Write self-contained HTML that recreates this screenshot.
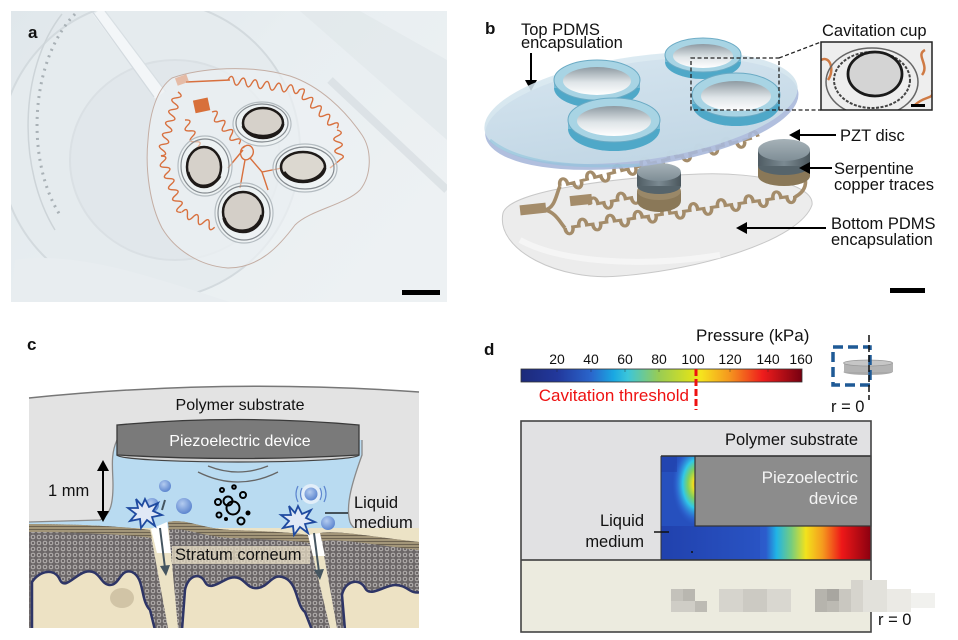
<!DOCTYPE html>
<html><head><meta charset="utf-8">
<style>
html,body{margin:0;padding:0;background:#fff;}
svg{display:block;}
text{font-family:"Liberation Sans",Arial,sans-serif;}
</style></head><body>
<svg width="958" height="640" viewBox="0 0 958 640" xmlns="http://www.w3.org/2000/svg">
<defs>
<linearGradient id="bgA" x1="0" y1="0" x2="1" y2="0.6">
<stop offset="0" stop-color="#e0e7eb"/><stop offset="0.5" stop-color="#e8eef1"/><stop offset="1" stop-color="#edf1f3"/>
</linearGradient>
<linearGradient id="topDisc" x1="0" y1="0" x2="0" y2="1">
<stop offset="0" stop-color="#d8e8f0"/><stop offset="1" stop-color="#c4dae6"/>
</linearGradient>
<linearGradient id="cupIn" x1="0" y1="0" x2="0" y2="1">
<stop offset="0" stop-color="#8e9aa2"/><stop offset="0.55" stop-color="#dfe5e8"/><stop offset="1" stop-color="#ffffff"/>
</linearGradient>
<linearGradient id="pztTop" x1="0" y1="0" x2="0" y2="1">
<stop offset="0" stop-color="#a6b2b8"/><stop offset="1" stop-color="#7f8e96"/>
</linearGradient>
<linearGradient id="pztSide" x1="0" y1="0" x2="1" y2="0">
<stop offset="0" stop-color="#4f5c63"/><stop offset="0.5" stop-color="#7b8a92"/><stop offset="1" stop-color="#4a565c"/>
</linearGradient>
<linearGradient id="cbar" x1="0" y1="0" x2="1" y2="0">
<stop offset="0" stop-color="#1c2a7a"/><stop offset="0.13" stop-color="#22389c"/><stop offset="0.25" stop-color="#2a66cc"/>
<stop offset="0.33" stop-color="#1aa8e2"/><stop offset="0.38" stop-color="#3cc6da"/><stop offset="0.49" stop-color="#98cc54"/>
<stop offset="0.6" stop-color="#d8e020"/><stop offset="0.64" stop-color="#f6e41e"/><stop offset="0.74" stop-color="#f5981e"/>
<stop offset="0.86" stop-color="#ef1c1c"/><stop offset="1" stop-color="#760010"/>
</linearGradient>
<linearGradient id="band" x1="661" y1="0" x2="871" y2="0" gradientUnits="userSpaceOnUse">
<stop offset="0" stop-color="#1f3ea8"/><stop offset="0.5" stop-color="#2c5ccc"/><stop offset="0.55" stop-color="#20b4e6"/>
<stop offset="0.62" stop-color="#74cc80"/><stop offset="0.69" stop-color="#f2e21c"/><stop offset="0.77" stop-color="#f59a1e"/>
<stop offset="0.86" stop-color="#ee1818"/><stop offset="1" stop-color="#8a0010"/>
</linearGradient>
<radialGradient id="corner" cx="0.5" cy="0.5" r="0.5">
<stop offset="0" stop-color="#e86020"/><stop offset="0.15" stop-color="#f0e020"/><stop offset="0.35" stop-color="#80d060"/>
<stop offset="0.55" stop-color="#30c8e8"/><stop offset="0.8" stop-color="#3070d8" stop-opacity="0.6"/><stop offset="1" stop-color="#2448b8" stop-opacity="0"/>
</radialGradient>
<radialGradient id="bub" cx="0.4" cy="0.35" r="0.65">
<stop offset="0" stop-color="#b4ccf0"/><stop offset="1" stop-color="#5d86cf"/>
</radialGradient>
<pattern id="mesh" width="6" height="6" patternUnits="userSpaceOnUse">
<rect width="6" height="6" fill="#6c6768"/><circle cx="3" cy="3" r="1.8" fill="none" stroke="#bebab8" stroke-width="0.9"/>
</pattern>
<pattern id="sc" width="8" height="3" patternUnits="userSpaceOnUse">
<rect width="8" height="3" fill="#a39679"/><path d="M0 1.5 H8" stroke="#5f5646" stroke-width="0.8"/>
</pattern>
<clipPath id="clipA"><rect x="11" y="11" width="436" height="291"/></clipPath>
<clipPath id="clipHM"><rect x="661" y="456" width="210" height="104"/></clipPath>
<clipPath id="clipInset"><rect x="821" y="42" width="111" height="68"/></clipPath>
<clipPath id="clipC"><path d="M29,398 Q224,378 419,392 L419,628 L29,628 Z"/></clipPath>
</defs>

<!-- ================= PANEL A ================= -->
<g clip-path="url(#clipA)">
<rect x="11" y="11" width="436" height="291" fill="url(#bgA)"/>
<ellipse cx="150" cy="150" rx="150" ry="150" fill="#e5ebee" stroke="#d3dade" stroke-width="2"/>
<ellipse cx="175" cy="160" rx="105" ry="100" fill="#e1e7eb" stroke="#dae0e4" stroke-width="2"/>
<path d="M75,14 C30,60 25,160 60,215" fill="none" stroke="#a9b1b6" stroke-width="3" stroke-dasharray="2 5"/>
<path d="M62,14 C18,70 18,170 55,230" fill="none" stroke="#cdd4d8" stroke-width="1.5"/>
<path d="M300,11 L447,140 L447,60 L360,11 Z" fill="#e0e6ea" opacity="0.6"/>
<path d="M330,80 L447,190" stroke="#cfd6db" stroke-width="8" opacity="0.5"/>
<path d="M15,260 C80,250 160,280 230,302 L11,302 Z" fill="#e8edf0"/>
<path d="M98,11 L160,95" stroke="#f3f6f8" stroke-width="12"/>
<path d="M92,11 L154,97" stroke="#d3dadf" stroke-width="1.2"/>
<path d="M105,11 L166,92" stroke="#d8dfe3" stroke-width="1.2"/>
<!-- patch -->
<path d="M172,78 C200,68 250,64 290,76 C320,86 345,110 362,135 C372,150 372,175 360,190 C345,205 310,210 295,225 C280,245 260,268 228,268 C200,266 175,250 162,228 C150,205 145,170 148,140 C150,110 158,88 172,78 Z" fill="#edf1f3" fill-opacity="0.7" stroke="#c4aea4" stroke-width="1"/>
<!-- traces -->
<g fill="none" stroke="#d8703e" stroke-width="1.4">
<path transform="translate(228,80) rotate(8)" d="M0 0 q3 -8 6 0 t6 0 t6 0 t6 0 t6 0 t6 0 t6 0 t6 0 t6 0 t6 0 t6 0 t6 0"/>
<path transform="translate(299,90) rotate(45)" d="M0 0 q3 -8 6 0 t6 0 t6 0 t6 0 t6 0 t6 0 t6 0 t6 0 t6 0"/>
<path transform="translate(337,130) rotate(85)" d="M0 0 q3 -8 6 0 t6 0 t6 0 t6 0 t6 0"/>
<path d="M340,160 L330,168"/>
<path transform="translate(178,92) rotate(105)" d="M0 0 q3 -8 6 0 t6 0 t6 0 t6 0 t6 0 t6 0 t6 0 t6 0 t6 0 t6 0 t6 0"/>
<path transform="translate(161,156) rotate(70)" d="M0 0 q3 -8 6 0 t6 0 t6 0 t6 0 t6 0 t6 0 t6 0 t6 0 t6 0 t6 0"/>
<path transform="translate(182,212) rotate(25)" d="M0 0 q3 -8 6 0 t6 0 t6 0 t6 0 t6 0 t6 0"/>
<path transform="translate(212,112) rotate(50)" d="M0 0 q3 -8 6 0 t6 0 t6 0 t6 0 t6 0 t6 0 t6 0"/>
<path transform="translate(185,120) rotate(65)" d="M0 0 q3 -8 6 0 t6 0 t6 0 t6 0 t6 0"/>
<path d="M243,148 C250,140 258,152 250,158 C242,165 236,150 245,146 M250,158 L262,172 L282,168 M245,160 L240,188 M228,168 L243,150 M262,172 L268,190"/>
<path d="M186,82 L230,80"/>
</g>
<rect x="194" y="99" width="15" height="13" fill="#d8703a" transform="rotate(-12 201 105)"/>
<rect x="176" y="76" width="12" height="8" fill="#e39a74" opacity="0.6" transform="rotate(-20 182 80)"/>
<!-- discs -->
<g>
<ellipse cx="262" cy="124" rx="29" ry="22" fill="#f2f5f6" fill-opacity="0.5" stroke="#b4bcc1" stroke-width="1.2"/>
<ellipse cx="262" cy="123" rx="26" ry="19" fill="none" stroke="#858b90" stroke-width="1.2"/>
<ellipse cx="263" cy="123" rx="20" ry="15" fill="#d6d1ca" stroke="#1e1a18" stroke-width="2.5"/>
<path d="M243,126 C248,140 280,140 283,124" fill="none" stroke="#1e1a18" stroke-width="3"/>
<ellipse cx="205" cy="166" rx="27" ry="30" fill="#f2f5f6" fill-opacity="0.5" stroke="#b4bcc1" stroke-width="1.2"/>
<ellipse cx="205" cy="166" rx="24" ry="27" fill="none" stroke="#858b90" stroke-width="1.2"/>
<ellipse cx="204" cy="167" rx="17" ry="20" fill="#d6d1ca" stroke="#1e1a18" stroke-width="2.5"/>
<path d="M188,172 C192,190 212,190 220,176" fill="none" stroke="#1e1a18" stroke-width="3"/>
<ellipse cx="305" cy="168" rx="32" ry="24" fill="#f2f5f6" fill-opacity="0.5" stroke="#b4bcc1" stroke-width="1.2"/>
<ellipse cx="305" cy="168" rx="29" ry="21" fill="none" stroke="#858b90" stroke-width="1.2"/>
<ellipse cx="303" cy="167" rx="22" ry="15" fill="#dcd8d0" stroke="#1e1a18" stroke-width="2.5"/>
<path d="M284,172 C292,185 318,185 325,168" fill="none" stroke="#1e1a18" stroke-width="3.2"/>
<ellipse cx="244" cy="213" rx="29" ry="30" fill="#f2f5f6" fill-opacity="0.5" stroke="#b4bcc1" stroke-width="1.2"/>
<ellipse cx="244" cy="213" rx="26" ry="27" fill="none" stroke="#858b90" stroke-width="1.2"/>
<ellipse cx="243" cy="212" rx="20" ry="20" fill="#d4cfc8" stroke="#1e1a18" stroke-width="2.5"/>
<path d="M224,218 C228,236 258,236 262,215" fill="none" stroke="#1e1a18" stroke-width="3.5"/>
</g>
<rect x="402" y="290" width="38" height="5" fill="#000"/>
</g>
<text x="28" y="38" font-size="17" font-weight="bold" fill="#111">a</text>

<!-- ================= PANEL B ================= -->
<text x="485" y="34" font-size="17" font-weight="bold" fill="#111">b</text>
<text x="521" y="35" font-size="16.5" fill="#111">Top PDMS</text>
<text x="521" y="48" font-size="16.5" fill="#111">encapsulation</text>
<line x1="531" y1="53" x2="531" y2="82" stroke="#000" stroke-width="2"/>
<polygon points="525,80 537,80 531,91" fill="#000"/>

<!-- bottom PDMS -->
<path d="M503,213 C495,250 560,282 620,276 C700,270 800,240 812,205 C815,185 760,172 700,174 C620,177 510,190 503,213 Z" fill="#ececec" stroke="#c8c8c8" stroke-width="1"/>
<path d="M520,240 C560,262 640,268 720,255" fill="none" stroke="#f8f8f8" stroke-width="6" opacity="0.8"/>
<!-- traces b -->
<g fill="none" stroke="#a48c6a" stroke-width="3.6">
<path transform="translate(560,186) rotate(-14) scale(1,0.85)" d="M0 0 c0 -10 8 -10 8 0 l6 0 c0 10 8 10 8 0 l6 0 c0 -10 8 -10 8 0 l6 0 c0 10 8 10 8 0 l6 0 c0 -10 8 -10 8 0 l6 0 c0 10 8 10 8 0 l6 0 c0 -10 8 -10 8 0 l6 0 c0 10 8 10 8 0 l6 0 c0 -10 8 -10 8 0 l6 0 c0 10 8 10 8 0 l6 0 c0 -10 8 -10 8 0 l6 0 c0 10 8 10 8 0 l6 0 c0 -10 8 -10 8 0 l6 0 c0 10 8 10 8 0 l6 0 c0 -10 8 -10 8 0"/>
<path transform="translate(565,228) rotate(-8) scale(1,0.85)" d="M0 0 c0 10 8 10 8 0 l6 0 c0 -10 8 -10 8 0 l6 0 c0 10 8 10 8 0 l6 0 c0 -10 8 -10 8 0 l6 0 c0 10 8 10 8 0 l6 0 c0 -10 8 -10 8 0 l6 0 c0 10 8 10 8 0 l6 0 c0 -10 8 -10 8 0 l6 0 c0 10 8 10 8 0 l6 0 c0 -10 8 -10 8 0 l6 0 c0 10 8 10 8 0 l6 0 c0 -10 8 -10 8 0 l6 0 c0 10 8 10 8 0 l6 0 c0 -10 8 -10 8 0 l6 0 c0 10 8 10 8 0 l6 0 c0 -10 8 -10 8 0 l6 0 c0 10 8 10 8 0"/>
<path transform="translate(590,205) rotate(-10) scale(1,0.85)" d="M0 0 c0 -10 8 -10 8 0 l6 0 c0 10 8 10 8 0 l6 0 c0 -10 8 -10 8 0 l6 0 c0 10 8 10 8 0 l6 0 c0 -10 8 -10 8 0 l6 0 c0 10 8 10 8 0 l6 0"/>
<path d="M545,210 C555,208 556,195 560,186 M545,210 C555,212 560,222 565,228 M795,197 C808,190 808,178 800,170"/>
</g>
<rect x="520" y="204" width="26" height="10" fill="#a48c6a" transform="rotate(-6 533 209)"/>
<rect x="570" y="195" width="22" height="10" fill="#a48c6a" transform="rotate(-6 581 200)"/>
<!-- PZT discs -->
<ellipse cx="659" cy="201" rx="22" ry="11" fill="#8a7858"/>
<rect x="637" y="191" width="44" height="10" fill="#8a7858"/>
<ellipse cx="659" cy="191" rx="22" ry="9" fill="#9a8868"/>
<ellipse cx="659" cy="186" rx="22" ry="8" fill="#56646b"/>
<rect x="637" y="172" width="44" height="14" fill="url(#pztSide)"/>
<ellipse cx="659" cy="172" rx="22" ry="9" fill="url(#pztTop)"/>
<ellipse cx="784" cy="176" rx="26" ry="10" fill="#8a7858"/>
<rect x="758" y="166" width="52" height="10" fill="#8a7858"/>
<ellipse cx="784" cy="166" rx="26" ry="9" fill="#56646b"/>
<rect x="758" y="150" width="52" height="16" fill="url(#pztSide)"/>
<ellipse cx="784" cy="150" rx="26" ry="11" fill="url(#pztTop)"/>
<!-- top PDMS -->
<g transform="rotate(-8 641 108)">
<ellipse cx="641" cy="114" rx="158" ry="52" fill="#a9b8da" opacity="0.9"/>
<ellipse cx="641" cy="108" rx="158" ry="52" fill="url(#topDisc)" opacity="0.88"/>
</g>
<path d="M490,140 C520,165 580,168 640,165" fill="none" stroke="#8fc4dc" stroke-width="3" opacity="0.6"/>
<!-- cups -->
<g>
<ellipse cx="597" cy="88" rx="43" ry="20" fill="#4fa8c8"/>
<rect x="554" y="80" width="86" height="8" fill="#78bcd6"/>
<ellipse cx="597" cy="80" rx="43" ry="20" fill="#a8d4e4" stroke="#6aaac4"/>
<ellipse cx="597" cy="81" rx="34" ry="14" fill="url(#cupIn)"/>
<ellipse cx="703" cy="62" rx="38" ry="17" fill="#4fa8c8"/>
<rect x="665" y="55" width="76" height="7" fill="#78bcd6"/>
<ellipse cx="703" cy="55" rx="38" ry="17" fill="#a8d4e4" stroke="#6aaac4"/>
<ellipse cx="703" cy="56" rx="30" ry="12" fill="url(#cupIn)"/>
<ellipse cx="614" cy="129" rx="46" ry="22" fill="#4fa8c8"/>
<rect x="568" y="120" width="92" height="9" fill="#78bcd6"/>
<ellipse cx="614" cy="120" rx="46" ry="22" fill="#a8d4e4" stroke="#6aaac4"/>
<ellipse cx="614" cy="121" rx="37" ry="15" fill="url(#cupIn)"/>
<ellipse cx="736" cy="104" rx="44" ry="22" fill="#4fa8c8"/>
<rect x="692" y="95" width="88" height="9" fill="#78bcd6"/>
<ellipse cx="736" cy="95" rx="44" ry="22" fill="#a8d4e4" stroke="#6aaac4"/>
<ellipse cx="736" cy="96" rx="35" ry="15" fill="url(#cupIn)"/>
</g>
<!-- dashed zoom box -->
<rect x="691" y="58" width="88" height="52" fill="none" stroke="#222" stroke-width="1.3" stroke-dasharray="4 2.5"/>
<line x1="779" y1="58" x2="821" y2="42" stroke="#222" stroke-width="1.3" stroke-dasharray="4 2.5"/>
<line x1="779" y1="110" x2="821" y2="110" stroke="#222" stroke-width="1.3" stroke-dasharray="4 2.5"/>
<!-- inset -->
<text x="822" y="36" font-size="16.5" fill="#111">Cavitation cup</text>
<g clip-path="url(#clipInset)">
<rect x="821" y="42" width="111" height="68" fill="#eeeeee"/>
<path d="M821,60 C830,55 835,70 828,80 M925,50 C915,55 930,65 922,75 M915,105 C925,95 935,100 932,90" fill="none" stroke="#cf7a44" stroke-width="2.5"/>
<ellipse cx="872" cy="82" rx="46" ry="34" fill="none" stroke="#666" stroke-width="1.5"/>
<ellipse cx="872" cy="80" rx="38" ry="28" fill="none" stroke="#444" stroke-width="2" stroke-dasharray="3 1.5"/>
<ellipse cx="875" cy="74" rx="27" ry="22" fill="#d4d4d4" stroke="#1a1a1a" stroke-width="2.8"/>
<rect x="911" y="104" width="14" height="3" fill="#000"/>
</g>
<rect x="821" y="42" width="111" height="68" fill="none" stroke="#222" stroke-width="1.5"/>
<!-- labels -->
<text x="840" y="141" font-size="16.5" fill="#111">PZT disc</text>
<line x1="836" y1="135" x2="798" y2="135" stroke="#000" stroke-width="2"/>
<polygon points="800,129 800,141 789,135" fill="#000"/>
<text x="834" y="174" font-size="16.5" fill="#111">Serpentine</text>
<text x="834" y="190" font-size="16.5" fill="#111">copper traces</text>
<line x1="832" y1="168" x2="808" y2="168" stroke="#000" stroke-width="2"/>
<polygon points="810,162 810,174 799,168" fill="#000"/>
<text x="831" y="229" font-size="16.5" fill="#111">Bottom PDMS</text>
<text x="831" y="245" font-size="16.5" fill="#111">encapsulation</text>
<line x1="826" y1="228" x2="745" y2="228" stroke="#000" stroke-width="2"/>
<polygon points="747,222 747,234 736,228" fill="#000"/>
<rect x="890" y="288" width="35" height="5" fill="#000"/>

<!-- ================= PANEL C ================= -->
<text x="27" y="350" font-size="17" font-weight="bold" fill="#111">c</text>
<g clip-path="url(#clipC)">
<rect x="29" y="380" width="390" height="250" fill="#e3e3e3"/>
<!-- liquid -->
<path d="M117,440 C110,455 113,470 113,485 C113,505 110,515 100,520 L29,522 L29,540 L419,545 L419,538 C385,538 355,536 350,522 C345,505 353,480 362,455 L362,440 Z" fill="#b9dbf1"/>
<path d="M117,440 C110,455 113,470 113,485 C113,505 110,515 100,520 L29,522" fill="none" stroke="#8a8a8a" stroke-width="1.3"/>
<path d="M362,440 L362,455 C353,480 345,505 350,522 C355,536 385,538 419,538" fill="none" stroke="#8a8a8a" stroke-width="1.3"/>
<!-- skin base -->
<rect x="29" y="528" width="390" height="102" fill="#ece3c6"/>
<path d="M29,524 C70,524 120,526 150,530 L168,628 L29,628 Z" fill="url(#mesh)"/>
<path d="M168,522 C185,518 200,528 230,530 C260,531 290,532 308,535 L330,628 L178,628 Z" fill="url(#mesh)"/>
<path d="M320,533 C340,530 380,538 419,542 L419,628 L337,628 Z" fill="url(#mesh)"/>
<path d="M29,524 C70,524 120,526 150,530 L152,538 C120,534 70,532 29,532 Z" fill="url(#sc)"/>
<path d="M168,522 C185,518 200,528 230,530 C260,531 290,532 308,535 L310,543 C290,540 260,539 230,538 C200,536 185,527 169,530 Z" fill="url(#sc)"/>
<path d="M320,533 C340,530 380,538 419,542 L419,550 C380,546 340,538 322,541 Z" fill="url(#sc)"/>
<polygon points="151,529 167,522 171,553 157,553" fill="#fff"/>
<polygon points="308,535 320,533 325,556 313,556" fill="#fff"/>
<!-- dermis blobs -->
<g fill="#ede2c4" stroke="#2e3566" stroke-width="2.5">
<path d="M32,630 L32,582 C40,570 55,568 60,580 C65,590 75,575 85,572 C100,568 100,585 110,585 C120,585 120,568 132,572 C145,578 140,600 150,610 L155,630 Z"/>
<path d="M182,630 L185,590 C188,575 200,572 205,582 C210,592 222,580 230,578 C245,574 245,590 258,588 C270,586 272,572 285,578 C298,584 296,605 305,612 L312,630 Z"/>
<path d="M345,630 L342,595 C345,580 360,578 365,588 C370,598 385,585 395,585 C408,585 410,595 421,592 L421,630 Z"/>
</g>
<ellipse cx="122" cy="598" rx="12" ry="10" fill="#c9bd9f" opacity="0.8"/>
<rect x="172" y="546" width="138" height="18" fill="#ece3c8" opacity="0.7"/>
<!-- gap arrows -->
<line x1="160" y1="528" x2="165" y2="568" stroke="#455560" stroke-width="2"/>
<polygon points="160,566 170,565 166,576" fill="#455560"/>
<line x1="314" y1="533" x2="319" y2="572" stroke="#455560" stroke-width="2"/>
<polygon points="314,570 324,569 320,580" fill="#455560"/>
</g>
<path d="M29,398 Q224,378 419,392" fill="none" stroke="#777" stroke-width="1.5"/>
<!-- piezo device -->
<ellipse cx="238" cy="455" rx="121" ry="7" fill="#d2d2d2" stroke="#444" stroke-width="1.2"/>
<path d="M117,425 Q238,414 359,425 L359,455 Q238,462 117,455 Z" fill="#7a7a7a" stroke="#3a3a3a" stroke-width="1.3"/>
<text x="240" y="446" font-size="16" fill="#fff" text-anchor="middle">Piezoelectric device</text>
<text x="240" y="410" font-size="16" fill="#111" text-anchor="middle">Polymer substrate</text>
<path d="M198,472 Q238,492 278,472" fill="none" stroke="#666" stroke-width="1.3"/>
<path d="M208,466 Q238,478 268,466" fill="none" stroke="#666" stroke-width="1.3"/>
<!-- 1 mm arrow -->
<line x1="103" y1="470" x2="103" y2="512" stroke="#000" stroke-width="2"/>
<polygon points="97,471 109,471 103,460" fill="#000"/>
<polygon points="97,511 109,511 103,522" fill="#000"/>
<text x="48" y="496" font-size="16.5" fill="#111">1 mm</text>
<!-- bubbles -->
<circle cx="165" cy="486" r="6" fill="url(#bub)"/>
<circle cx="152" cy="505" r="7" fill="url(#bub)"/>
<circle cx="184" cy="506" r="8" fill="url(#bub)"/>
<circle cx="311" cy="494" r="10" fill="#e2eef9"/>
<circle cx="311" cy="494" r="6.5" fill="url(#bub)"/>
<path d="M298,486 Q294,494 298,502 M302,488 Q299,494 302,500 M324,486 Q328,494 324,502 M320,488 Q323,494 320,500" fill="none" stroke="#5d86cf" stroke-width="1.2"/>
<circle cx="328" cy="523" r="7" fill="url(#bub)"/>
<!-- stars -->
<polygon points="145,499 149,507 158,503 153,511 162,515 152,517 155,526 147,520 141,528 140,519 130,521 136,514 128,508 138,508 136,499 142,506" fill="#e0e8f6" stroke="#1f4aa0" stroke-width="1.8"/>
<polygon points="298,506 302,514 311,510 306,518 315,522 305,524 308,533 300,527 294,535 293,526 283,528 289,521 281,515 291,515 289,506 295,513" fill="#e0e8f6" stroke="#1f4aa0" stroke-width="1.8"/>
<line x1="162" y1="510" x2="165" y2="500" stroke="#455560" stroke-width="2"/>
<!-- cavitation cluster -->
<g fill="none" stroke="#000" stroke-width="2">
<circle cx="233" cy="508" r="6.5"/><circle cx="228" cy="501" r="4.5"/>
<circle cx="222" cy="490" r="2"/><circle cx="218" cy="502" r="3"/><circle cx="243" cy="495" r="3"/>
<circle cx="219" cy="515" r="2.5"/><circle cx="241" cy="521" r="3.5"/><circle cx="234" cy="487" r="1.8"/>
</g>
<circle cx="248" cy="513" r="2.5" fill="#000"/><circle cx="226" cy="519" r="2" fill="#000"/>
<!-- liquid label -->
<line x1="325" y1="513" x2="348" y2="513" stroke="#000" stroke-width="1.3"/>
<text x="354" y="508" font-size="16.5" fill="#111">Liquid</text>
<text x="354" y="528" font-size="16.5" fill="#111">medium</text>
<text x="175" y="560" font-size="16.5" fill="#111">Stratum corneum</text>

<!-- ================= PANEL D ================= -->
<text x="484" y="355" font-size="17" font-weight="bold" fill="#111">d</text>
<text x="696" y="341" font-size="17" fill="#111">Pressure (kPa)</text>
<g font-size="14" fill="#111" text-anchor="middle">
<text x="557" y="364">20</text><text x="591" y="364">40</text><text x="625" y="364">60</text><text x="659" y="364">80</text>
<text x="693" y="364">100</text><text x="730" y="364">120</text><text x="768" y="364">140</text><text x="801" y="364">160</text>
</g>
<rect x="521" y="369" width="281" height="13" fill="url(#cbar)" stroke="#333" stroke-width="0.8"/>
<g stroke="#222" stroke-width="0.8" opacity="0.5">
<line x1="557" y1="369" x2="557" y2="372"/><line x1="591" y1="369" x2="591" y2="372"/><line x1="625" y1="369" x2="625" y2="372"/>
<line x1="659" y1="369" x2="659" y2="372"/><line x1="730" y1="369" x2="730" y2="372"/><line x1="768" y1="369" x2="768" y2="372"/>
</g>
<line x1="696" y1="369" x2="696" y2="410" stroke="#ee1111" stroke-width="3" stroke-dasharray="7 3"/>
<text x="689" y="401" font-size="17" fill="#ee1111" text-anchor="end">Cavitation threshold</text>
<!-- small inset -->
<ellipse cx="868" cy="372" rx="24.5" ry="3" fill="#a9a9a9"/>
<rect x="844" y="363" width="49" height="9" fill="#b3b3b3"/>
<ellipse cx="868" cy="363" rx="24.5" ry="3" fill="#c6c6c6" stroke="#999" stroke-width="0.8"/>
<rect x="833" y="347" width="37" height="38" fill="none" stroke="#1f5a96" stroke-width="3.5" stroke-dasharray="10 5"/>
<line x1="869" y1="335" x2="869" y2="400" stroke="#111" stroke-width="1.5" stroke-dasharray="7 3"/>
<text x="831" y="412" font-size="16.5" fill="#111">r = 0</text>
<!-- main box -->
<rect x="521" y="421" width="350" height="139" fill="#e1e1e3"/>
<rect x="521" y="560" width="350" height="72" fill="#ecebdf"/>
<g clip-path="url(#clipHM)">
<rect x="661" y="456" width="210" height="104" fill="#2650be"/>
<rect x="661" y="526" width="210" height="34" fill="url(#band)"/>
<path d="M661,526 L760,526 L760,560 L661,560 Z" fill="#2448b8" opacity="0.35"/>
<ellipse cx="697" cy="484" rx="26" ry="44" fill="url(#corner)"/>
<rect x="661" y="456" width="16" height="16" fill="#1c2e96" opacity="0.3"/>
</g>
<rect x="695" y="456" width="176" height="70" fill="#8c8c8c" stroke="#333" stroke-width="1.2"/>
<line x1="661" y1="456" x2="871" y2="456" stroke="#333" stroke-width="1.5"/>
<line x1="661" y1="456" x2="661" y2="560" stroke="#333" stroke-width="1"/>
<line x1="521" y1="560" x2="871" y2="560" stroke="#333" stroke-width="1.5"/>
<circle cx="692" cy="552" r="1" fill="#111"/>
<rect x="521" y="421" width="350" height="211" fill="none" stroke="#444" stroke-width="1.6"/>
<text x="858" y="445" font-size="16.5" fill="#111" text-anchor="end">Polymer substrate</text>
<text x="858" y="483" font-size="17" fill="#f4f4f4" text-anchor="end">Piezoelectric</text>
<text x="858" y="504" font-size="17" fill="#f4f4f4" text-anchor="end">device</text>
<text x="644" y="526" font-size="16.5" fill="#111" text-anchor="end">Liquid</text>
<text x="644" y="547" font-size="16.5" fill="#111" text-anchor="end">medium</text>
<line x1="654" y1="532" x2="669" y2="532" stroke="#111" stroke-width="1.5"/>
<!-- pixelated blur -->
<g>
<rect x="671" y="589" width="12" height="12" fill="#c4c2bb"/><rect x="683" y="589" width="12" height="12" fill="#b9b7b0"/>
<rect x="671" y="601" width="24" height="11" fill="#cfcdc6"/><rect x="695" y="601" width="12" height="11" fill="#bdbbb4"/>
<rect x="719" y="589" width="24" height="23" fill="#d6d4cd"/><rect x="743" y="589" width="24" height="23" fill="#cccac3"/>
<rect x="767" y="589" width="24" height="23" fill="#d9d7d0"/>
<rect x="815" y="589" width="12" height="23" fill="#b6b4ad"/><rect x="827" y="589" width="12" height="12" fill="#a8a6a0"/>
<rect x="827" y="601" width="12" height="11" fill="#bcbab3"/><rect x="839" y="589" width="12" height="23" fill="#c9c7c0"/>
<rect x="851" y="580" width="12" height="32" fill="#d6d4cd"/><rect x="863" y="580" width="24" height="32" fill="#e2e1db"/>
<rect x="887" y="589" width="24" height="23" fill="#ebeae5"/><rect x="911" y="593" width="24" height="15" fill="#f1f1ee"/>
</g>
<text x="878" y="625" font-size="16.5" fill="#111">r = 0</text>
</svg>
</body></html>
